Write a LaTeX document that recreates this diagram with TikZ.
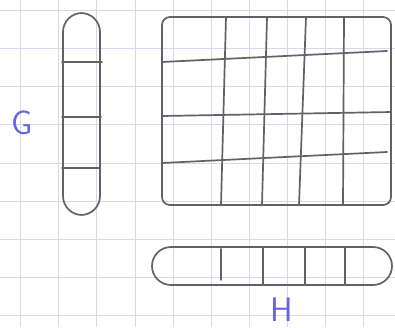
\documentclass[tikz,border=0pt]{standalone}
\begin{document}
\begin{tikzpicture}[x=1pt,y=-1pt,
  paper/.style={draw=gridc,line width=0.8pt},
  pen/.style={draw=penc,line width=1.7pt,line cap=round,line join=round},
  lbl/.style={text=inkc,font=\sffamily\fontsize{34}{34}\selectfont,inner sep=0pt}]
\definecolor{gridc}{RGB}{218,216,232}
\definecolor{penc}{RGB}{100,96,102}
\definecolor{inkc}{RGB}{105,100,225}
\useasboundingbox (0,0) rectangle (395,327);
\fill[white] (0,0) rectangle (395,327);
% squared paper
\foreach \x in {20,58,96,135,173,211,249,287,325,363}
  \draw[paper] (\x,0) -- (\x,327);
\foreach \y in {10,48,86,124,163,201,239,277,315}
  \draw[paper] (0,\y) -- (395,\y);
% G bar
\draw[pen,rounded corners=19pt] (63,13) rectangle (100,215);
\draw[pen] (62,62) -- (102,62);
\draw[pen] (62,117) -- (101,117);
\draw[pen] (62,168) -- (100,168);
% big grid
\draw[pen,rounded corners=8pt] (162,17) rectangle (391,205);
\draw[pen] (226,17) -- (221,205);
\draw[pen] (267,17) -- (262,205);
\draw[pen] (306,17) -- (299,205);
\draw[pen] (344,17) -- (343,205);
\draw[pen] (162,62) -- (387,51);
\draw[pen] (162,116) -- (391,112);
\draw[pen] (162,163) -- (387,152);
% H bar
\draw[pen,rounded corners=19pt] (152,247) rectangle (392,285);
\draw[pen] (221,249) -- (221,280);
\draw[pen] (263,247) -- (263,285);
\draw[pen] (305,247) -- (305,285);
\draw[pen] (345,247) -- (345,285);
% labels
\node[lbl] (G) at (22,123) {G};
\node[lbl] (H) at (282,310) {H};
\end{tikzpicture}
\end{document}
